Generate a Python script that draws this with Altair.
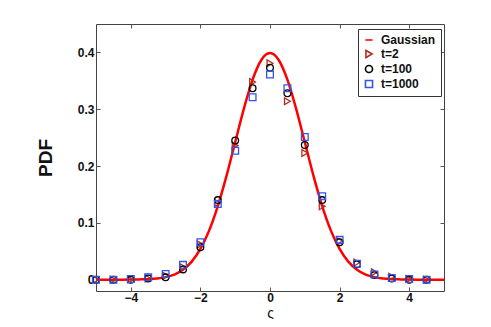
import altair as alt
import pandas as pd

# Gaussian reference curve
curve_x = [-5, -4.75, -4.5, -4.25, -4, -3.75, -3.5, -3.25, -3, -2.75, -2.5, -2.25, -2, -1.75, -1.5, -1.25, -1, -0.75, -0.5, -0.25, 0,
           0.25, 0.5, 0.75, 1, 1.25, 1.5, 1.75, 2, 2.25, 2.5, 2.75, 3, 3.25, 3.5, 3.75, 4, 4.25, 4.5, 4.75, 5]
curve_y = [0.0, 0.0, 0.0, 0.0, 0.0001, 0.0004, 0.0009, 0.002, 0.0044, 0.009, 0.0175, 0.0317, 0.054, 0.0863, 0.1295, 0.1826, 0.242, 0.3011, 0.3521, 0.3867, 0.3989,
           0.3867, 0.3521, 0.3011, 0.242, 0.1826, 0.1295, 0.0863, 0.054, 0.0317, 0.0175, 0.009, 0.0044, 0.002, 0.0009, 0.0004, 0.0001, 0.0, 0.0, 0.0, 0.0]

# simulated PDFs
pts_x = [-5, -4.5, -4, -3.5, -3, -2.5, -2, -1.5, -1, -0.5, 0, 0.5, 1, 1.5, 2, 2.5, 3, 3.5, 4, 4.5]
t2 = [0.0, 0.0, 0.0, 0.002, 0.007, 0.022, 0.062, 0.135, 0.236, 0.348, 0.381, 0.314, 0.223, 0.129, 0.068, 0.030, 0.013, 0.005, 0.001, 0.0]
t100 = [0.0, 0.0, 0.0, 0.002, 0.004, 0.018, 0.057, 0.140, 0.245, 0.337, 0.373, 0.328, 0.237, 0.140, 0.066, 0.027, 0.008, 0.002, 0.0, 0.0]
t1000 = [0.0, 0.0, 0.001, 0.004, 0.010, 0.026, 0.066, 0.133, 0.227, 0.321, 0.361, 0.337, 0.251, 0.147, 0.070, 0.028, 0.009, 0.003, 0.001, 0.0]

series = ["Gaussian", "t=2", "t=100", "t=1000"]
colors = ["#ff0000", "#b0301c", "#000000", "#3355ee"]
shapes = ["stroke", "triangle-right", "circle", "square"]

x_ticks = [-4, -2, 0, 2, 4]
y_ticks = [0, 0.1, 0.2, 0.3, 0.4]

curve_df = pd.DataFrame({"x": curve_x, "y": curve_y, "series": "Gaussian"})
rows = []
for name, vals in [("t=2", t2), ("t=100", t100), ("t=1000", t1000)]:
    for xv, yv in zip(pts_x, vals):
        rows.append({"x": xv, "y": yv, "series": name})
pts_df = pd.DataFrame(rows)

FONT = "Liberation Sans"
xscale = alt.Scale(domain=[-5, 5], nice=False)
yscale = alt.Scale(domain=[-0.02, 0.45], nice=False)
cscale = alt.Scale(domain=series, range=colors)
sscale = alt.Scale(domain=series, range=shapes)

legend = alt.Legend(
    title=None, orient="none", legendX=262, legendY=5,
    padding=5, rowPadding=1, strokeColor="#333", fillColor="white",
    labelFont=FONT, labelFontSize=12, labelFontWeight="bold", labelColor="#111",
    symbolSize=50, symbolStrokeWidth=1.6, cornerRadius=0, labelOffset=6,
)

line = alt.Chart(curve_df).mark_line(strokeWidth=2.5, interpolate="monotone", clip=True).encode(
    x=alt.X("x:Q", scale=xscale, axis=alt.Axis(
        values=x_ticks, offset=-4, tickSize=4, domain=False, grid=False,
        labelPadding=1, labelFont=FONT, labelFontSize=12, labelFontWeight="bold", labelColor="#111",
        tickColor="#555", title="ς", titleFont=FONT, titleFontSize=14, titleFontWeight="normal",
        titlePadding=3, titleColor="#111")),
    y=alt.Y("y:Q", scale=yscale, axis=alt.Axis(
        values=y_ticks, format="~g", offset=-4, tickSize=4, domain=False, grid=False,
        labelPadding=2, labelFont=FONT, labelFontSize=12, labelFontWeight="bold", labelColor="#111",
        tickColor="#555", title="PDF", titleFont=FONT, titleFontSize=19, titleFontWeight="bold",
        titlePadding=22, titleColor="#111")),
    color=alt.Color("series:N", scale=cscale, legend=legend),
)

points = alt.Chart(pts_df).mark_point(filled=False, size=45, strokeWidth=1.3, opacity=1).encode(
    x=alt.X("x:Q", scale=xscale, axis=alt.Axis(
        orient="top", values=x_ticks, offset=-4, tickSize=4, domain=False, grid=False,
        labels=False, title=None, tickColor="#555")),
    y=alt.Y("y:Q", scale=yscale, axis=alt.Axis(
        orient="right", values=y_ticks, offset=-4, tickSize=4, domain=False, grid=False,
        labels=False, title=None, tickColor="#555")),
    color=alt.Color("series:N", scale=cscale, legend=legend),
    shape=alt.Shape("series:N", scale=sscale, legend=legend),
    order=alt.Order("ord:Q"),
).transform_calculate(ord="datum.series == 't=2' ? 0 : (datum.series == 't=100' ? 1 : 2)")

chart = alt.layer(line, points).resolve_axis(x="independent", y="independent").properties(
    width=348, height=267,
    autosize=alt.AutoSizeParams(type="none"),
    padding={"left": 88, "top": 16, "right": 30, "bottom": 28},
    background="white",
).configure_view(stroke="#444", strokeWidth=1)

chart.save("out.html", embed_options={"renderer": "svg", "actions": False})
